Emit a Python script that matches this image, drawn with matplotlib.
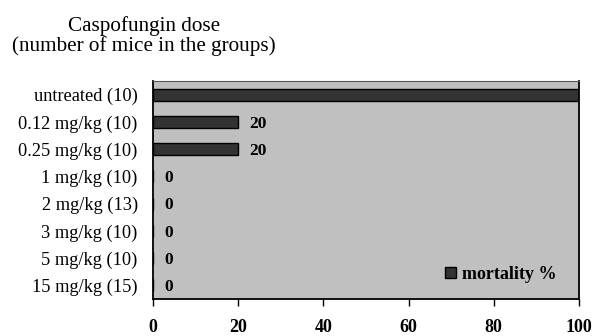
import matplotlib
matplotlib.use('Agg')
import matplotlib.pyplot as plt
import numpy as np

# Mortality by caspofungin dose
groups = ['untreated (10)', '0.12 mg/kg (10)', '0.25 mg/kg (10)', '1 mg/kg (10)',
          '2 mg/kg (13)', '3 mg/kg (10)', '5 mg/kg (10)', '15 mg/kg (15)']
mortality = [100, 20, 20, 0, 0, 0, 0, 0]
xticks = [0, 20, 40, 60, 80, 100]

plt.rcParams['font.family'] = ['Liberation Serif', 'DejaVu Serif']

fig = plt.figure(figsize=(5.94, 3.36), dpi=100)
ax = fig.add_axes([153/594, 1 - 299/336, 426/594, 218/336])
ax.set_facecolor('#c0c0c0')

y = np.arange(len(groups))
ax.barh(y, mortality, height=0.44, color='#333333', edgecolor='black',
        linewidth=1, label='mortality %')
ax.set_ylim(len(groups) - 0.5, -0.5)
ax.set_xlim(0, 100)

# value labels (the untreated bar runs off the edge, so no label there)
for i, v in enumerate(mortality):
    if v < 100:
        ax.text(v + 2.6, i + 0.06, str(v), fontsize=12.5, fontweight='bold',
                va='center', ha='left')

ax.set_yticks(y)
ax.set_yticklabels(groups, fontsize=13.2)
ax.tick_params(axis='y', length=0, pad=11)
ax.set_xticks(xticks)
ax.set_xticklabels([str(t) for t in xticks], fontsize=13, fontweight='bold')
ax.tick_params(axis='x', direction='out', length=5, width=1, pad=9.5)

for s in ['left', 'bottom', 'right']:
    ax.spines[s].set_linewidth(1.3)
    ax.spines[s].set_color('black')
ax.spines['top'].set_linewidth(0.8)
ax.spines['top'].set_color('#555555')

ax.legend(loc='lower right', frameon=False,
          prop={'weight': 'bold', 'size': 13}, handlelength=0.6,
          handleheight=0.6, handletextpad=0.3, bbox_to_anchor=(0.985, 0.0))

fig.text(144/594, 1 - 36/336, 'Caspofungin dose\n(number of mice in the groups)',
         ha='center', va='center', fontsize=15.2, linespacing=1.05)

fig.savefig('out.png', dpi=100)
